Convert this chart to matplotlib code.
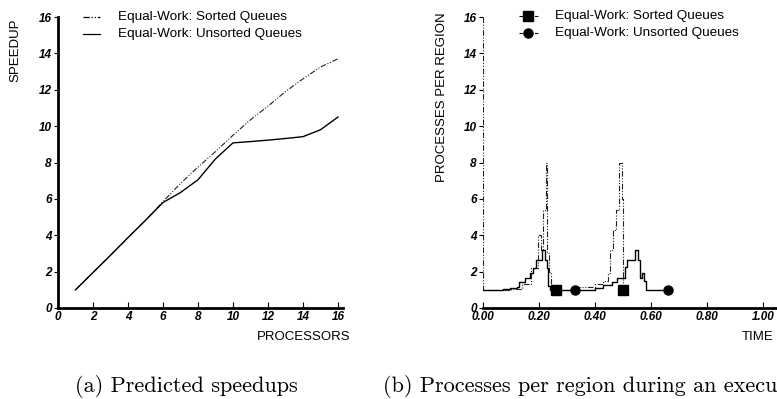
import matplotlib
matplotlib.use("Agg")
import matplotlib.pyplot as plt
from matplotlib.lines import Line2D

# ---------------- data ----------------
processors = [1, 2, 3, 4, 5, 6, 7, 8, 9, 10, 11, 12, 13, 14, 15, 16]
speedup_sorted = [1.0, 1.95, 2.9, 3.87, 4.82, 5.85, 6.85, 7.75, 8.6, 9.5,
                  10.35, 11.1, 11.9, 12.6, 13.25, 13.7]
speedup_unsorted = [1.0, 1.95, 2.9, 3.87, 4.82, 5.8, 6.35, 7.05, 8.2, 9.08,
                    9.15, 9.23, 9.32, 9.42, 9.8, 10.5]

time_sorted = [0.0, 0.0, 0.10, 0.14, 0.17, 0.196, 0.207, 0.215, 0.225, 0.23,
               0.236, 0.242, 0.26, 0.33, 0.34, 0.40, 0.43, 0.445, 0.455,
               0.465, 0.475, 0.487, 0.495, 0.50]
proc_sorted = [16.0, 1.0, 1.05, 1.3, 2.2, 4.0, 3.2, 5.4, 8.0, 3.0,
               2.0, 1.0, 1.0, 1.0, 1.17, 1.3, 1.5, 1.9, 3.2,
               4.3, 5.4, 8.0, 6.0, 1.0]

time_unsorted = [0.0, 0.073, 0.096, 0.12, 0.13, 0.15, 0.168, 0.18, 0.189,
                 0.21, 0.221, 0.227, 0.233, 0.239, 0.40, 0.43, 0.46, 0.477,
                 0.507, 0.513, 0.525, 0.543, 0.555, 0.56, 0.567, 0.575,
                 0.582, 0.66]
proc_unsorted = [1.0, 1.03, 1.1, 1.17, 1.41, 1.63, 1.9, 2.18, 2.64,
                 3.19, 2.64, 2.2, 1.2, 1.0, 1.08, 1.26, 1.45, 1.63,
                 2.27, 2.64, 2.64, 3.19, 2.64, 1.63, 1.9, 1.5,
                 1.0, 1.0]

marker_time_sorted = [0.26, 0.50]
marker_proc_sorted = [1.0, 1.0]
marker_time_unsorted = [0.33, 0.66]
marker_proc_unsorted = [1.0, 1.0]

label_sorted = "Equal-Work: Sorted Queues"
label_unsorted = "Equal-Work: Unsorted Queues"
xticks_a = [0, 2, 4, 6, 8, 10, 12, 14, 16]
yticks = [0, 2, 4, 6, 8, 10, 12, 14, 16]
xticks_b = [0.0, 0.2, 0.4, 0.6, 0.8, 1.0]

# ---------------- figure ----------------
W, H = 777, 399
fig = plt.figure(figsize=(W / 100, H / 100), dpi=100)

SANS = "Liberation Sans"
DDOT = (0, (5, 1.5, 1, 1.5, 1, 1.5))
tick_font = dict(family=SANS, weight="bold", style="italic", size=8.5)


def px(x0, y0, w, h):
    return [x0 / W, 1 - (y0 + h) / H, w / W, h / H]


def style_axes(ax):
    for s in ("top", "right"):
        ax.spines[s].set_visible(False)
    for s in ("left", "bottom"):
        ax.spines[s].set_linewidth(2.0)
    ax.tick_params(axis="x", direction="in", length=4, width=0.8, pad=2)
    ax.tick_params(axis="y", direction="out", length=3, width=0.8, pad=1.5)
    ax.set_yticks(yticks)
    ax.set_yticklabels([str(v) for v in yticks], fontdict=tick_font)
    ax.set_ylim(0, 16)


# ---- (a) ----
axa = fig.add_axes(px(58, 17, 17.5 * 16.3, 291))
axa.plot(processors, speedup_sorted, color="#222222", lw=0.8, linestyle=DDOT)
axa.plot(processors, speedup_unsorted, color="black", lw=1.0)
axa.set_xlim(0, 16.3)
style_axes(axa)
axa.set_xticks(xticks_a)
axa.set_xticklabels([str(v) for v in xticks_a], fontdict=tick_font)

# ---- (b) ----
axb = fig.add_axes(px(483, 17, 280 * 1.1, 291))
axb.plot(time_sorted, proc_sorted, drawstyle="steps-post", color="#222222",
         lw=0.8, linestyle=DDOT)
axb.plot(time_unsorted, proc_unsorted, drawstyle="steps-post", color="black",
         lw=1.0)
axb.plot(marker_time_sorted, marker_proc_sorted, linestyle="none", marker="s",
         ms=7.5, color="black")
axb.plot(marker_time_unsorted, marker_proc_unsorted, linestyle="none",
         marker="o", ms=6.5, color="black")
axb.set_xlim(0, 1.1)
style_axes(axb)
axb.spines["left"].set_visible(False)
axb.set_xticks(xticks_b)
axb.set_xticklabels([f"{v:.2f}" for v in xticks_b], fontdict=tick_font)

# axis labels
lab_font = dict(family=SANS, size=9.5)
fig.text(15 / W, 1 - 18 / H, "SPEEDUP", rotation=90, ha="center", va="top",
         **lab_font)
fig.text(442 / W, 1 - 12 / H, "PROCESSES PER REGION", rotation=90,
         ha="center", va="top", **lab_font)
fig.text(350 / W, 1 - 337 / H, "PROCESSORS", ha="right", va="center",
         **lab_font)
fig.text(773 / W, 1 - 337 / H, "TIME", ha="right", va="center", **lab_font)

# legends
leg_font = dict(family=SANS, size=9.7)
rows = [17, 34]
for y, ls, lab in zip(rows, [DDOT, "-"], [label_sorted, label_unsorted]):
    fig.add_artist(Line2D([83 / W, 100 / W], [1 - y / H, 1 - y / H],
                          color="black", lw=0.9, linestyle=ls))
    fig.text(118 / W, 1 - y / H, lab, ha="left", va="center", **leg_font)
rows_b = [16, 33]
for y, mk, ms, lab in zip(rows_b, ["s", "o"], [7.0, 6.5],
                          [label_sorted, label_unsorted]):
    fig.add_artist(Line2D([519 / W, 538 / W], [1 - y / H, 1 - y / H],
                          color="black", lw=0.8,
                          linestyle=(0, (3, 1.5, 1, 1.5))))
    fig.add_artist(Line2D([528 / W], [1 - y / H], color="black", marker=mk,
                          ms=ms, linestyle="none"))
    fig.text(555 / W, 1 - y / H, lab, ha="left", va="center", **leg_font)

# captions
cap_font = dict(family="cmr10", size=16)
fig.text(75 / W, 1 - 386 / H, "(a) Predicted speedups", ha="left",
         va="center", **cap_font)
fig.text(383 / W, 1 - 386 / H, "(b) Processes per region during an execution",
         ha="left", va="center", **cap_font)

fig.savefig("out.png", dpi=100)
